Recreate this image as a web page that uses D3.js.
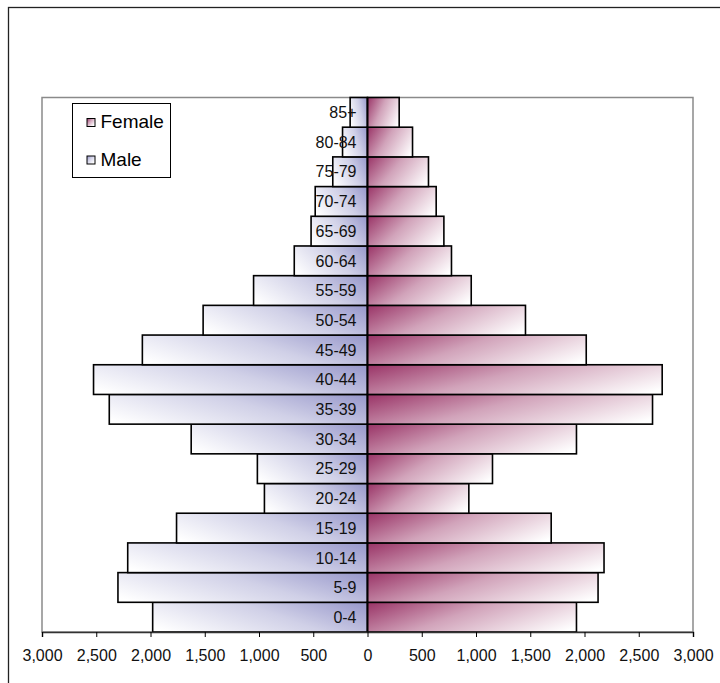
<!DOCTYPE html>
<html>
<head>
<meta charset="utf-8">
<script src="https://cdn.jsdelivr.net/npm/d3@7"></script>
<style>
  html, body { margin: 0; padding: 0; background: #fff; }
  svg { display: block; font-family: "Liberation Sans", Arial, sans-serif; }
</style>
</head>
<body>
<svg id="chart" width="720" height="683"></svg>
<script>
// ---- data (bottom to top) ----
const categories = ["0-4","5-9","10-14","15-19","20-24","25-29","30-34","35-39","40-44","45-49","50-54","55-59","60-64","65-69","70-74","75-79","80-84","85+"];
const male   = [1980, 2300, 2210, 1760, 950, 1015, 1625, 2380, 2525, 2075, 1515, 1050, 675, 520, 482, 320, 230, 160];
const female = [1926, 2125, 2180, 1693, 934, 1152, 1926, 2627, 2716, 2016, 1456, 956, 774, 704, 633, 562, 415, 292];
const tickValues = [-3000,-2500,-2000,-1500,-1000,-500,0,500,1000,1500,2000,2500,3000];
const seriesNames = ["Female", "Male"];

const svg = d3.select("#chart");
const plot = { left: 42, right: 693, top: 97.5, bottom: 632 };

const x = d3.scaleLinear().domain([-3000, 3000]).range([plot.left, plot.right]);
const y = d3.scaleBand().domain(categories.slice().reverse()).range([plot.top, plot.bottom]).padding(0);

const defs = svg.append("defs");
const femaleDark = "#993366", maleDark = "#9696ca";

// outer frame
svg.append("rect").attr("x", 8.5).attr("y", 7.5).attr("width", 800).attr("height", 800)
  .attr("fill", "none").attr("stroke", "#222").attr("stroke-width", 1.3);

// plot area border
svg.append("rect").attr("x", plot.left).attr("y", plot.top)
  .attr("width", plot.right - plot.left).attr("height", plot.bottom - plot.top)
  .attr("fill", "#fff").attr("stroke", "#8a8a8a").attr("stroke-width", 1.5);

// gradient whose value is t = a*(u/w) + b*(v/h), u measured from inner edge outward, v from top
function makeGrad(id, xi, xo, y0, h, dark, a, b) {
  const w = Math.abs(xo - xi), dir = xo >= xi ? 1 : -1;
  const px = a / w, py = b / h;
  const s = 1 / (px * px + py * py);
  const vx = s * px * dir, vy = s * py;
  const g = defs.append("linearGradient").attr("id", id)
    .attr("gradientUnits", "userSpaceOnUse")
    .attr("x1", xi).attr("y1", y0).attr("x2", xi + vx).attr("y2", y0 + vy);
  const c = d3.interpolateRgb(dark, "#ffffff");
  g.append("stop").attr("offset", "0%").attr("stop-color", dark);
  g.append("stop").attr("offset", "45%").attr("stop-color", c(0.55));
  g.append("stop").attr("offset", "100%").attr("stop-color", "#ffffff");
}

const rows = categories.map((c, i) => ({ cat: c, m: male[i], f: female[i], i }));
const bh = y.bandwidth();

// male bars (left)
rows.forEach(d => makeGrad("gm" + d.i, x(0), x(-d.m), y(d.cat), bh, maleDark, 0.75, 0.3));
svg.append("g").selectAll("rect").data(rows).join("rect")
  .attr("x", d => x(-d.m)).attr("y", d => y(d.cat))
  .attr("width", d => x(0) - x(-d.m)).attr("height", bh)
  .attr("fill", d => "url(#gm" + d.i + ")")
  .attr("stroke", "#000").attr("stroke-width", 1.6);

// female bars (right)
rows.forEach(d => makeGrad("gf" + d.i, x(0), x(d.f), y(d.cat), bh, femaleDark, 0.75, 0.3));
svg.append("g").selectAll("rect").data(rows).join("rect")
  .attr("x", x(0)).attr("y", d => y(d.cat))
  .attr("width", d => x(d.f) - x(0)).attr("height", bh)
  .attr("fill", d => "url(#gf" + d.i + ")")
  .attr("stroke", "#000").attr("stroke-width", 1.6);

// vertical category axis line
svg.append("line").attr("x1", x(0)).attr("x2", x(0)).attr("y1", plot.top).attr("y2", plot.bottom)
  .attr("stroke", "#000").attr("stroke-width", 1.6);

// category labels
svg.append("g").selectAll("text").data(categories).join("text")
  .attr("x", x(0) - 11).attr("y", d => y(d) + bh / 2)
  .attr("dy", "0.36em").attr("text-anchor", "end")
  .attr("font-size", 16).attr("fill", "#111").text(d => d);

// bottom axis
const xAxis = d3.axisBottom(x).tickValues(tickValues).tickSize(5).tickPadding(13)
  .tickFormat(v => d3.format(",")(Math.abs(v)));
const ax = svg.append("g").attr("transform", `translate(0,${plot.bottom})`).call(xAxis);
ax.select(".domain").attr("stroke", "#333").attr("stroke-width", 1.5);
ax.selectAll(".tick line").attr("stroke", "#000");
ax.selectAll(".tick text").attr("font-size", 16).attr("fill", "#111")
  .attr("font-family", "Liberation Sans, Arial, sans-serif");

// legend
const lg = svg.append("g");
lg.append("rect").attr("x", 72.5).attr("y", 103.5).attr("width", 98).attr("height", 74)
  .attr("fill", "#fff").attr("stroke", "#000").attr("stroke-width", 1);
const legendItems = seriesNames.map((n, i) => ({ name: n, dark: i === 0 ? femaleDark : maleDark, yy: i === 0 ? 118.5 : 156 }));
legendItems.forEach((d, i) => {
  makeGrad("lg" + i, 87, 95, d.yy, 8, d.dark, 0.6, 0.6);
  lg.append("rect").attr("x", 87).attr("y", d.yy).attr("width", 8).attr("height", 8)
    .attr("fill", "url(#lg" + i + ")").attr("stroke", "#000").attr("stroke-width", 1);
  lg.append("text").attr("x", 100.5).attr("y", d.yy + 9.5).attr("font-size", 19).attr("fill", "#000").text(d.name);
});
</script>
</body>
</html>
